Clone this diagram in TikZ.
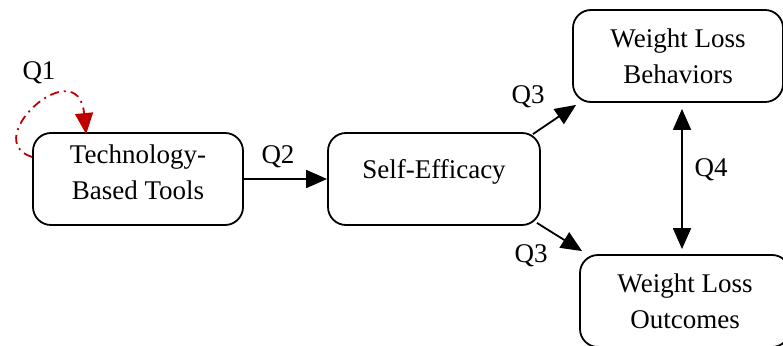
\documentclass[tikz,border=0pt]{standalone}
\usepackage{fontspec}
\setmainfont{Liberation Serif}
\usetikzlibrary{arrows.meta}
\definecolor{loopred}{RGB}{192,0,0}
\tikzset{
    box/.style={draw, thick, line width=1.8pt, rounded corners=18pt, minimum width=210pt,
        minimum height=92pt, align=center, font=\fontsize{27}{36}\selectfont},
    lbl/.style={font=\fontsize{27}{32}\selectfont},
    link/.style={line width=1.8pt, -{Triangle[length=21pt,width=18pt]}},
    looplink/.style={loopred, line width=1.8pt, dash pattern=on 9pt off 5pt on 2pt off 5pt,
        -{Triangle[length=21pt,width=18pt]}}
}
\begin{document}
\begin{tikzpicture}[x=1pt, y=-1pt]
    \useasboundingbox (0,0) rectangle (783,345);
    \node[box, text depth=14pt] (tech) at (138,179) {Technology-\\Based Tools};
    \node[box, text depth=20pt, minimum width=212pt] (self) at (434,179) {Self-Efficacy};
    \node[box] (behav) at (678,56) {Weight Loss\\Behaviors};
    \node[box] (outc) at (685,301) {Weight Loss\\Outcomes};
    % arrows
    \draw[link] (tech.east) -- (self.west);
    \node[lbl] (q2) at (278,157) {Q2};
    \draw[link] ([xshift=-8pt,yshift=-2pt]self.north east) -- ([xshift=4pt,yshift=-2pt]behav.south west);
    \node[lbl] (q3a) at (528,97) {Q3};
    \draw[link] ([xshift=-4pt,yshift=3pt]self.south east) -- ([xshift=3pt,yshift=3pt]outc.north west);
    \node[lbl] (q3b) at (531,256) {Q3};
    \draw[link, {Triangle[length=21pt,width=18pt]}-{Triangle[length=21pt,width=18pt]}]
        ([xshift=4pt,yshift=-6pt]behav.south) -- ([xshift=-3pt,yshift=5pt]outc.north);
    \node[lbl] (q4) at (711,170) {Q4};
    % self loop
    \draw[looplink] ([yshift=22pt]tech.west) .. controls (-22,140) and (78,50) .. ([xshift=54pt,yshift=-2pt]tech.north west);
    \node[lbl] (q1) at (39,73) {Q1};
\end{tikzpicture}
\end{document}
